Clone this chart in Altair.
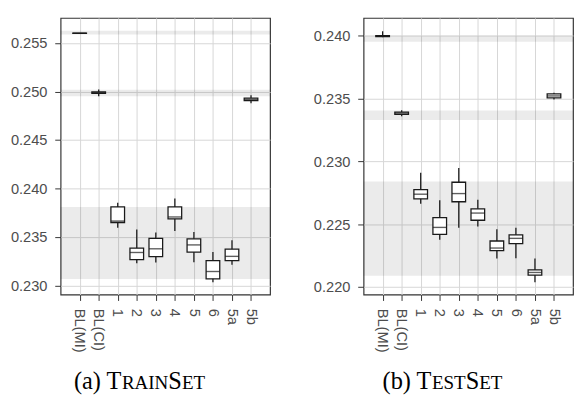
import altair as alt
import pandas as pd

cats = ["BL(MI)", "BL(CI)", "1", "2", "3", "4", "5", "6", "5a", "5b"]

# TrainSet box statistics (whisker low, q1, median, q3, whisker high)
tr_lo  = [0.25598, 0.24952, 0.23596, 0.23231, 0.23238, 0.23562, 0.23241, 0.23034, 0.23215, 0.24880]
tr_q1  = [0.25599, 0.24980, 0.23650, 0.23268, 0.23298, 0.23687, 0.23345, 0.23070, 0.23258, 0.24906]
tr_med = [0.25600, 0.24988, 0.23665, 0.23341, 0.23379, 0.23707, 0.23419, 0.23145, 0.23301, 0.24918]
tr_q3  = [0.25601, 0.24995, 0.23810, 0.23386, 0.23486, 0.23810, 0.23482, 0.23258, 0.23375, 0.24932]
tr_hi  = [0.25602, 0.25020, 0.23853, 0.23579, 0.23546, 0.23898, 0.23552, 0.23345, 0.23466, 0.24962]
tr_band_lo = [0.25587, 0.24952, 0.23067]
tr_band_hi = [0.25627, 0.25018, 0.23809]
tr_domain = [0.22907, 0.25758]
tr_ticks = [0.230, 0.235, 0.240, 0.245, 0.250, 0.255]

# TestSet box statistics
te_lo  = [0.23986, 0.23357, 0.22663, 0.22376, 0.22472, 0.22482, 0.22227, 0.22229, 0.22039, 0.23491]
te_q1  = [0.23990, 0.23372, 0.22701, 0.22418, 0.22678, 0.22531, 0.22289, 0.22345, 0.22095, 0.23504]
te_med = [0.23994, 0.23382, 0.22738, 0.22474, 0.22743, 0.22588, 0.22310, 0.22387, 0.22116, 0.23519]
te_q3  = [0.23998, 0.23391, 0.22774, 0.22552, 0.22833, 0.22622, 0.22366, 0.22415, 0.22136, 0.23535]
te_hi  = [0.24033, 0.23406, 0.22908, 0.22689, 0.22947, 0.22693, 0.22459, 0.22472, 0.22227, 0.23545]
te_band_lo = [0.23950, 0.23328, 0.22090]
te_band_hi = [0.23998, 0.23404, 0.22838]
te_domain = [0.21940, 0.24139]
te_ticks = [0.220, 0.225, 0.230, 0.235, 0.240]

cap_a = [("(a) T", "big"), ("RAIN", "small"), ("S", "big"), ("ET", "small")]
cap_b = [("(b) T", "big"), ("EST", "small"), ("S", "big"), ("ET", "small")]

W, H = 215, 284
BIG, SMALL = 25, 19.5
INK = "#1a1a1a"
SERIF = "Liberation Serif"
SANS = "Liberation Sans"

# Times / Liberation Serif advance widths (per 1000 em)
TW = {"(": 333, ")": 333, "a": 444, "b": 500, " ": 250, "T": 611, "R": 667,
      "A": 722, "I": 333, "N": 722, "S": 556, "E": 611}


def text_width(s, size):
    return sum(TW.get(c, 600) for c in s) / 1000.0 * size


def caption_layers(pieces, center, base_y):
    sizes = [BIG if k == "big" else SMALL for _, k in pieces]
    widths = [text_width(t, s) for (t, _), s in zip(pieces, sizes)]
    x0 = center - sum(widths) / 2.0
    layers = []
    for (t, _), s, w in zip(pieces, sizes, widths):
        layers.append(
            alt.Chart(pd.DataFrame({"t": [t]}))
            .mark_text(font=SERIF, fontSize=s, align="left", baseline="alphabetic", color="black")
            .encode(text="t:N", x=alt.value(x0), y=alt.value(base_y))
        )
        x0 += w
    return layers


def panel(lo, q1, med, q3, hi, blo, bhi, domain, ticks, caption):
    df = pd.DataFrame({"cat": cats, "lo": lo, "q1": q1, "med": med, "q3": q3, "hi": hi})
    bands = pd.DataFrame({"blo": blo, "bhi": bhi})

    xenc = alt.X(
        "cat:N", sort=cats,
        scale=alt.Scale(type="point", padding=1),
        axis=alt.Axis(title=None, labelAngle=90, labelAlign="left", labelBaseline="middle",
                      labelPadding=8, tickSize=6, grid=True),
    )

    def yenc(field):
        return alt.Y(
            f"{field}:Q",
            scale=alt.Scale(domain=domain, nice=False, zero=False),
            axis=alt.Axis(title=None, values=ticks, format=".3f", labelPadding=8, tickSize=6, grid=True),
        )

    band_layer = alt.Chart(bands).mark_rect(color="black", opacity=0.08).encode(
        y=yenc("blo"), y2="bhi:Q"
    )
    whisk = alt.Chart(df).mark_rule(color=INK, strokeWidth=1.3).encode(
        x=xenc, y=yenc("lo"), y2="hi:Q"
    )
    box = alt.Chart(df).mark_bar(size=14, fill="white", stroke=INK, strokeWidth=1.3).encode(
        x=xenc, y=yenc("q1"), y2="q3:Q"
    )
    mid = alt.Chart(df).mark_tick(size=14, thickness=1.4, color=INK).encode(
        x=xenc, y=yenc("med")
    )
    caps = caption_layers(caption, 81, 381)
    return alt.layer(band_layer, whisk, box, mid, *caps).properties(width=W, height=H)


left = panel(tr_lo, tr_q1, tr_med, tr_q3, tr_hi, tr_band_lo, tr_band_hi, tr_domain, tr_ticks, cap_a)
right = panel(te_lo, te_q1, te_med, te_q3, te_hi, te_band_lo, te_band_hi, te_domain, te_ticks, cap_b)

chart = (
    alt.hconcat(left, right, spacing=42)
    .properties(padding={"left": 1, "top": 4, "right": 0, "bottom": 0})
    .configure_view(stroke="#333333", strokeWidth=1.2)
    .configure_axis(
        domain=False,
        labelFont=SANS, labelFontSize=15, labelColor="#4d4d4d",
        tickColor="#333333", tickWidth=1,
        gridColor="#d6d6d6", gridWidth=1,
    )
)

chart.save("out.html", embed_options={"renderer": "svg", "actions": False})
